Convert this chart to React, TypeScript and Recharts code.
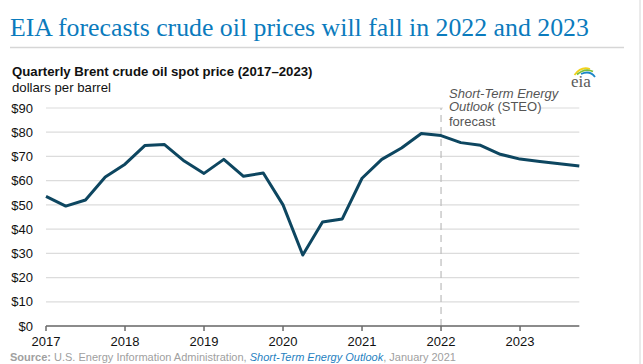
import React from 'react';
import { LineChart, Line, XAxis, YAxis, CartesianGrid, ReferenceLine } from 'recharts';

const quarters = [
  '2017Q1', '2017Q2', '2017Q3', '2017Q4',
  '2018Q1', '2018Q2', '2018Q3', '2018Q4',
  '2019Q1', '2019Q2', '2019Q3', '2019Q4',
  '2020Q1', '2020Q2', '2020Q3', '2020Q4',
  '2021Q1', '2021Q2', '2021Q3', '2021Q4',
  '2022Q1', '2022Q2', '2022Q3', '2022Q4',
  '2023Q1', '2023Q2', '2023Q3', '2023Q4',
];

const prices = [
  53.5, 49.5, 52.0, 61.5,
  66.8, 74.5, 74.9, 68.1,
  63.0, 68.8, 61.8, 63.2,
  50.0, 29.3, 42.9, 44.2,
  61.0, 68.8, 73.5, 79.5,
  78.6, 75.7, 74.6, 70.9,
  68.9, 67.9, 67.0, 66.1,
];

const yearTicks = [2017, 2018, 2019, 2020, 2021, 2022, 2023];
const priceTicks = [0, 10, 20, 30, 40, 50, 60, 70, 80, 90];
const forecastStart = 2022;

const data = quarters.map((q, i) => ({
  t: Number(q.slice(0, 4)) + (Number(q.slice(5)) - 1) / 4,
  price: prices[i],
}));

const SANS = '"Liberation Sans", Arial, sans-serif';
const SERIF = '"Liberation Serif", "Times New Roman", serif';

export default function App() {
  return (
    <div style={{ position: 'absolute', left: 0, top: 0, width: 643, height: 364, background: '#fff', overflow: 'hidden' }}>
      <LineChart
        width={643}
        height={364}
        data={data}
        margin={{ top: 108, right: 63.7, bottom: 8, left: 0 }}
      >
        <CartesianGrid vertical={false} stroke="#dcdcdc" strokeWidth={1.2} />
        <XAxis
          dataKey="t"
          type="number"
          domain={[2017, 2023.75]}
          ticks={yearTicks}
          interval={0}
          height={30}
          tickSize={5}
          tickMargin={6}
          axisLine={{ stroke: '#6a6a6a', strokeWidth: 1.5 }}
          tickLine={{ stroke: '#6a6a6a', strokeWidth: 1.5 }}
          tick={{ fill: '#111', fontSize: 13, fontFamily: SANS }}
          allowDecimals
        />
        <YAxis
          domain={[0, 90]}
          ticks={priceTicks}
          interval={0}
          width={46}
          axisLine={false}
          tickLine={false}
          tickSize={0}
          tickMargin={13}
          tickFormatter={(v: number) => `$${v}`}
          tick={{ fill: '#111', fontSize: 13, fontFamily: SANS }}
        />
        <ReferenceLine x={forecastStart} stroke="#bcbcbc" strokeWidth={1.2} strokeDasharray="7 5" />
        <Line
          type="linear"
          dataKey="price"
          stroke="#0d4660"
          strokeWidth={3}
          strokeLinejoin="round"
          dot={false}
          activeDot={false}
          isAnimationActive={false}
        />
      </LineChart>
      <svg
        width={643}
        height={364}
        style={{ position: 'absolute', left: 0, top: 0, pointerEvents: 'none' }}
      >
        <text x={10} y={36} fontFamily={SERIF} fontSize={25.8} fill="#0b7bbd">
          EIA forecasts crude oil prices will fall in 2022 and 2023
        </text>
        <line x1={10} x2={624} y1={47.5} y2={47.5} stroke="#d6d6d6" strokeWidth={1.5} />
        <line x1={640} x2={640} y1={0} y2={364} stroke="#d6d6d6" strokeWidth={1} />
        <text x={12} y={75.5} fontFamily={SANS} fontSize={13.2} fontWeight="bold" fill="#111">
          Quarterly Brent crude oil spot price (2017–2023)
        </text>
        <text x={12} y={91.5} fontFamily={SANS} fontSize={13.2} fill="#111">
          dollars per barrel
        </text>
        {/* eia logo */}
        <path d="M574.5,75 Q581,66 590,69" stroke="#f2d21b" strokeWidth={1.8} fill="none" />
        <path d="M577,74.5 Q585,67.5 593,71.5" stroke="#7cbf3a" strokeWidth={1.8} fill="none" />
        <path d="M581,74 Q590,70 595,77" stroke="#1b86c8" strokeWidth={1.8} fill="none" />
        <text x={571} y={87} fontFamily={SERIF} fontSize={17} fill="#5a5a5a">eia</text>
        {/* annotation */}
        <rect x={443} y={99} width={98} height={14} fill="#fff" />
        <text x={449} y={97.5} fontFamily={SANS} fontSize={13} fill="#555" fontStyle="italic">
          Short-Term Energy
        </text>
        <text x={449} y={111} fontFamily={SANS} fontSize={13} fill="#555">
          <tspan fontStyle="italic">Outlook</tspan> (STEO)
        </text>
        <text x={449} y={125.5} fontFamily={SANS} fontSize={13} fill="#555">
          forecast
        </text>
        {/* source */}
        <text x={10} y={361} fontFamily={SANS} fontSize={11} fill="#a0a0a0">
          <tspan fontWeight="bold">Source:</tspan> U.S. Energy Information Administration,{' '}
          <tspan fill="#1f7fbf" fontStyle="italic">Short-Term Energy Outlook</tspan>, January 2021
        </text>
      </svg>
    </div>
  );
}
